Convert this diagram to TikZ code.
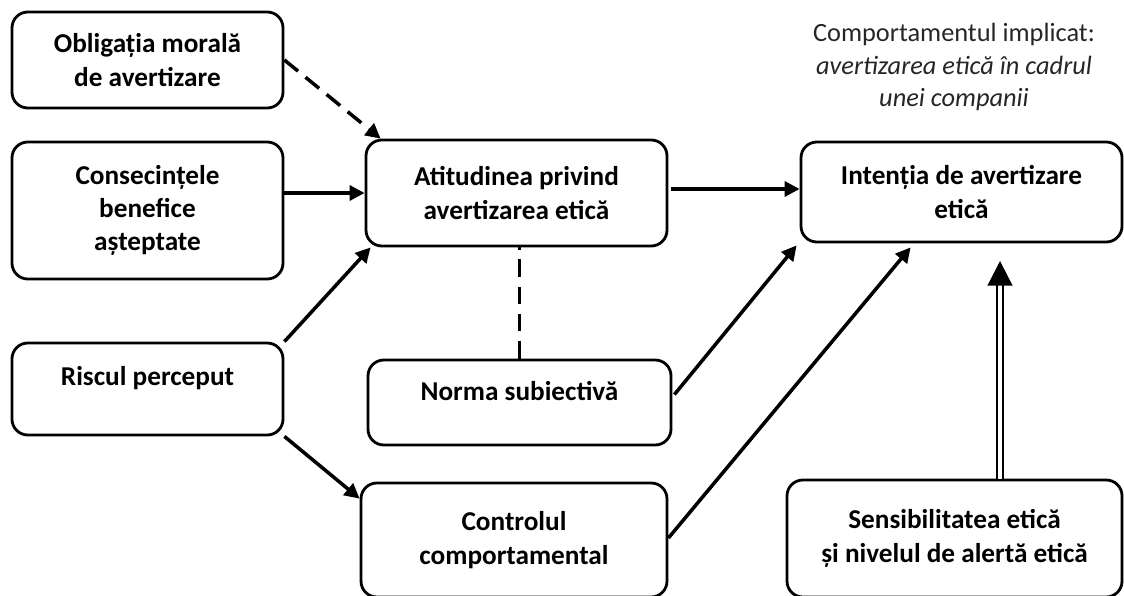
\documentclass[tikz,border=0pt]{standalone}
\usepackage{fontspec}
\setmainfont{Carlito}
\usetikzlibrary{arrows.meta,calc}

\begin{document}
\begin{tikzpicture}[x=0.02cm,y=-0.02cm,>={Triangle[length=8.5pt,width=8.5pt]},
    box/.style={draw,line width=1.6pt,rounded corners=9pt,align=center,inner sep=2pt,
      font=\fontsize{15.5}{19}\selectfont\bfseries},
    link/.style={line width=2pt,->},
    dashlink/.style={line width=2pt,dash pattern=on 10pt off 5.5pt}]
  \clip (0,0) rectangle (1124,595);
  \node[box,minimum width=271*0.02cm,minimum height=96*0.02cm] (oblig) at (147.5,60)
    {Obligația morală\\de avertizare};
  \node[box,minimum width=271*0.02cm,minimum height=137*0.02cm] (cons) at (147.5,210.5)
    {Consecințele\\benefice\\așteptate};
  \node[box,minimum width=271*0.02cm,minimum height=92*0.02cm,text depth=15pt] (risc) at (147.5,389)
    {Riscul perceput};
  \node[box,minimum width=301*0.02cm,minimum height=106*0.02cm] (atit) at (516.5,193)
    {Atitudinea privind\\avertizarea etică};
  \node[box,minimum width=303*0.02cm,minimum height=85*0.02cm,text depth=13pt] (norma) at (519.5,402.5)
    {Norma subiectivă};
  \node[box,minimum width=306*0.02cm,minimum height=114*0.02cm] (contr) at (514,540)
    {Controlul\\comportamental};
  \node[box,minimum width=321*0.02cm,minimum height=100*0.02cm] (inten) at (961.5,192)
    {Intenția de avertizare\\etică};
  \node[box,minimum width=335*0.02cm,minimum height=117*0.02cm] (sens) at (954.5,538.5)
    {Sensibilitatea etică\\și nivelul de alertă etică};
  \node[align=center,text=black!85,font=\fontsize{15}{18.5}\selectfont] (note) at (954,67)
    {Comportamentul implicat:\\\textit{avertizarea etică în cadrul}\\\textit{unei companii}};

  \draw[dashlink,->] (oblig.east) -- ($(atit.north west)+(16,0)$);
  \draw[link] (cons.east |- atit.west) -- (atit.west);
  \draw[link] (risc.north east) -- ($(atit.south west)+(6,0)$);
  \draw[link] (risc.south east) -- ($(contr.north west)+(0,17)$);
  \draw[dashlink] (norma.north) -- (norma.north |- atit.south);
  \coordinate (ai) at ($(atit.east)+(3,-4)$);
  \draw[link] (ai) -- (ai -| inten.west);
  \draw[link] ($(norma.east)+(2,-8)$) -- ($(inten.south west)+(-3,2)$);
  \draw[link] ($(contr.east)+(0,-2)$) -- ($(inten.south west)+(111,4)$);
  % double arrow from sensitivity up to intention
  \coordinate (dbl) at ($(sens.north)+(45.5,0)$);
  \draw[double,line width=1.3pt,double distance=2pt,
    -{Triangle[length=14pt,width=14pt]},shorten >=10pt] (dbl) -- (dbl |- inten.south);
\end{tikzpicture}
\end{document}
